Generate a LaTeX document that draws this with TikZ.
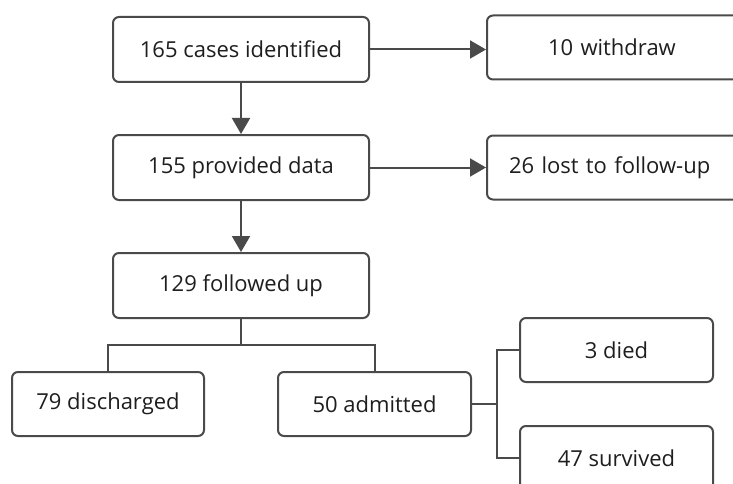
\documentclass[tikz,border=0pt]{standalone}
\usepackage{fontspec}
\setmainfont{Open Sans}
\usetikzlibrary{arrows.meta}
\definecolor{ln}{HTML}{4A4A4A}
\definecolor{tx}{HTML}{1E1E1E}
\begin{document}
\begin{tikzpicture}[x=1pt,y=-1pt,
  box/.style={draw=ln,line width=2pt,rounded corners=6pt,fill=white,text=tx,
    font=\fontsize{22}{26}\selectfont,inner sep=0pt},
  conn/.style={draw=ln,line width=2pt},
  arr/.style={conn,-{Triangle[length=16pt,width=18pt]}}]
\useasboundingbox (0,0) rectangle (733,484);
\clip (0,0) rectangle (733,484);
\node[box,minimum width=256pt,minimum height=65pt] (b1) at (241,49.5) {165 cases identified};
\node[box,minimum width=256pt,minimum height=65pt] (b2) at (241,167.5) {155 provided data};
\node[box,minimum width=256pt,minimum height=65pt] (b3) at (241,285.5) {129 followed up};
\node[box,minimum width=192pt,minimum height=64pt] (d) at (108,404) {79 discharged};
\node[box,minimum width=193pt,minimum height=64pt] (a) at (374.5,404) {50 admitted};
\node[box,minimum width=193pt,minimum height=64pt] (died) at (616.5,350) {3 died};
\node[box,minimum width=193pt,minimum height=64pt] (surv) at (616.5,458) {47 survived};
\node[box,minimum width=270pt,minimum height=64pt,text width=270pt,align=left] (w) at (622,47.5) {\hspace*{61pt}10 withdraw};
\node[box,minimum width=270pt,minimum height=64pt,text width=270pt,align=left] (l) at (622,167.5) {\hspace*{22pt}26 lost to follow-up};
\draw[arr] (b1.east) -- (w.west|-b1.east);
\draw[arr] (b2.east) -- (l.west|-b2.east);
\draw[arr] (b1.south) -- (b2.north);
\draw[arr] (b2.south) -- (b3.north);
\coordinate (j1) at (241,345);
\draw[conn] (b3.south) -- (j1) -| (d.north);
\draw[conn] (j1) -| (a.north);
\coordinate (j2) at (497,404);
\draw[conn] (a.east) -- (j2);
\draw[conn] (died.west) -| (j2) |- (surv.west);
\end{tikzpicture}
\end{document}
